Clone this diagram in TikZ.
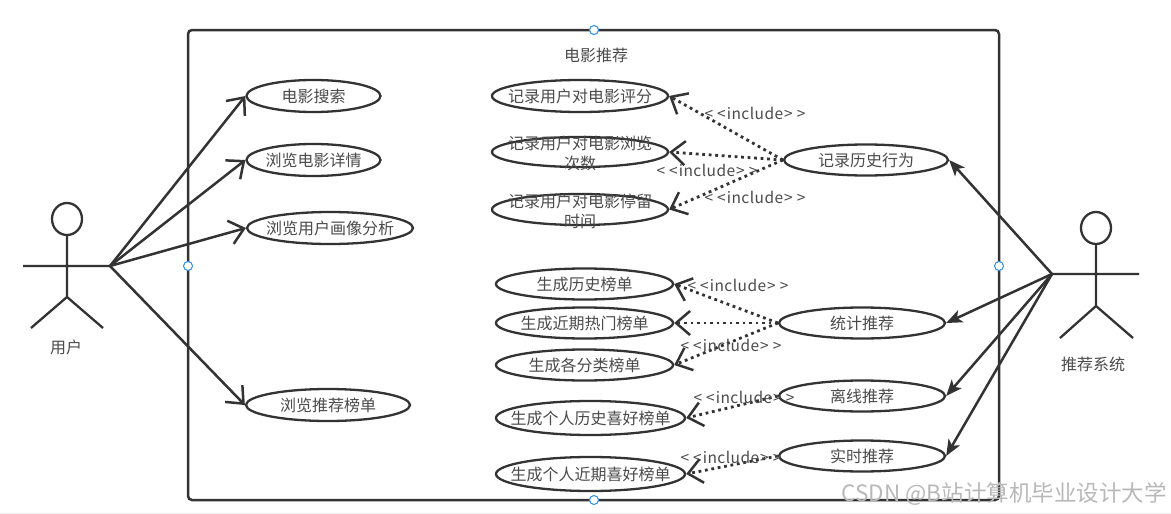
\documentclass[tikz,border=0pt]{standalone}
\usepackage{fontspec}
\setmainfont{Noto Sans CJK SC}
\usetikzlibrary{shapes.geometric,arrows.meta}
\definecolor{ink}{HTML}{333333}
\definecolor{txt}{HTML}{4A4A4A}
\definecolor{hand}{HTML}{2A8CEB}
\newcommand{\incl}{<\hspace{4pt}<\hspace{1pt}{\addfontfeature{LetterSpace=3}include}\hspace{1pt}>\hspace{4pt}>}
\tikzset{
 x=1pt,y=-1pt,
 usecase/.style={draw=ink,line width=2.3pt,ellipse,inner sep=0pt},
 casetext/.style={text=txt,inner sep=0pt,align=center,font=\fontsize{16}{20}\selectfont},
 twoline/.style={casetext,yshift=-1.5pt},
 plain/.style={text=txt,inner sep=0pt,font=\fontsize{16}{19}\selectfont},
 incl/.style={text=txt,inner sep=0pt,font=\fontsize{15.5}{19}\selectfont},
 actor/.style={draw=ink,line width=2.3pt},
 assoc/.style={draw=ink,line width=2.5pt,-{Straight Barb[length=14pt,width=24pt,line width=2.5pt]}},
 sysarrow/.style={draw=ink,line width=2.5pt,-{Stealth[length=16pt,width=13pt,inset=4pt]}},
 dep/.style={draw=ink,line width=2.8pt,dash pattern=on 2.8pt off 3.7pt,-{Straight Barb[length=14pt,width=24pt,line width=2.5pt,sep=0pt]}},
 grip/.style={circle,draw=hand,fill=white,line width=1pt,minimum size=9pt,inner sep=0pt},
}
\begin{document}
\begin{tikzpicture}
\useasboundingbox (0,0) rectangle (1171,514);
\draw[black!7,line width=1pt] (0,513.5) -- (1171,513.5);
% system boundary
\node[draw=ink,line width=2.5pt,rounded corners=4pt,inner sep=0pt,minimum width=811pt,minimum height=470pt] (sys) at (593.5,265) {};
\node[plain] (title) at (596,55) {电影推荐};
% left actor
\draw[actor] (67,219) ellipse [x radius=15,y radius=16];
\draw[actor] (67,235) -- (67,297) (23,266) -- (110,266) (31,328) -- (67,297) -- (103,328);
\coordinate (userhand) at (110,266);
\node[plain] (user) at (66,347) {用户};
% right actor
\draw[actor] (1096,228) ellipse [x radius=15,y radius=16];
\draw[actor] (1096,244) -- (1096,306) (1052,274) -- (1139,274) (1060,338) -- (1096,306) -- (1133,338);
\coordinate (syshand) at (1052,274);
\node[plain] (rec) at (1093,364) {推荐系统};
% user cases
\node[usecase,minimum width=134pt,minimum height=32pt,label={[casetext]center:电影搜索}] (u1) at (313.5,96) {};
\node[usecase,minimum width=134pt,minimum height=32pt,label={[casetext]center:浏览电影详情}] (u2) at (313.5,160) {};
\node[usecase,minimum width=166pt,minimum height=32pt,label={[casetext]center:浏览用户画像分析}] (u3) at (330,228) {};
\node[usecase,minimum width=164pt,minimum height=32pt,label={[casetext]center:浏览推荐榜单}] (u4) at (328,405) {};
% middle cases
\node[usecase,minimum width=176pt,minimum height=32pt,label={[casetext]center:记录用户对电影评分}] (m1) at (580,96) {};
\node[usecase,minimum width=176pt,minimum height=30pt,label={[twoline]center:{记录用户对电影浏览\\次数}}] (m2) at (580,152) {};
\node[usecase,minimum width=176pt,minimum height=31pt,label={[twoline]center:{记录用户对电影停留\\时间}}] (m3) at (580,209.5) {};
\node[usecase,minimum width=177pt,minimum height=31pt,label={[casetext]center:生成历史榜单}] (g1) at (584.5,284) {};
\node[usecase,minimum width=177pt,minimum height=31pt,label={[casetext]center:生成近期热门榜单}] (g2) at (584.5,323) {};
\node[usecase,minimum width=177pt,minimum height=31pt,label={[casetext]center:生成各分类榜单}] (g3) at (584.5,365) {};
\node[usecase,minimum width=189pt,minimum height=34pt,label={[casetext]center:生成个人历史喜好榜单}] (g4) at (590.5,418) {};
\node[usecase,minimum width=189pt,minimum height=34pt,label={[casetext]center:生成个人近期喜好榜单}] (g5) at (590.5,474) {};
% right cases
\node[usecase,minimum width=164pt,minimum height=31pt,label={[casetext]center:记录历史行为}] (r1) at (866,160) {};
\node[usecase,minimum width=166pt,minimum height=31pt,label={[casetext]center:统计推荐}] (r2) at (862,323) {};
\node[usecase,minimum width=166pt,minimum height=31pt,label={[casetext]center:离线推荐}] (r3) at (862,396) {};
\node[usecase,minimum width=166pt,minimum height=31pt,label={[casetext]center:实时推荐}] (r4) at (862,456) {};
% user associations
\foreach \t in {u1,u2,u3,u4} \draw[assoc] (userhand) -- (\t.west);
% system associations
\foreach \t in {r1,r2,r3,r4} \draw[sysarrow] (syshand) -- (\t.east);
% includes
\foreach \s/\t in {r1/m1,r1/m2,r1/m3,r2/g1,r2/g2,r2/g3,r3/g4,r4/g5} \draw[dep] (\s.west) -- (\t.east);
% include labels
\node[incl] (l1) at (755,113) {\incl};
\node[incl] (l2) at (707,170) {\incl};
\node[incl] (l3) at (755,197) {\incl};
\node[incl] (l4) at (738,285) {\incl};
\node[incl] (l5) at (731,345) {\incl};
\node[incl] (l6) at (744,397) {\incl};
\node[incl] (l7) at (731,457) {\incl};
% selection grips
\node[grip] (gt) at (594,30) {};
\node[grip] (gl) at (188,266) {};
\node[grip] (gr) at (999,266) {};
\node[grip] (gb) at (594,500) {};
% watermark
\node[text=black!28,inner sep=0pt,font=\fontsize{22.5}{25}\selectfont] (wm) at (1004,494) {CSDN @B站计算机毕业设计大学};
\end{tikzpicture}
\end{document}
